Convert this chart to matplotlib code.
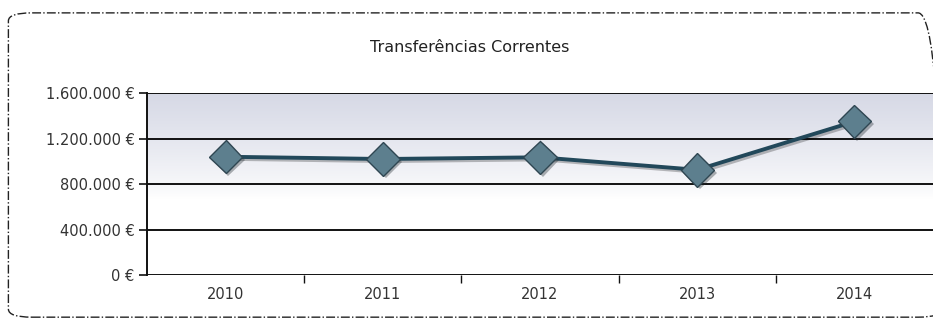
import matplotlib
matplotlib.use('Agg')
import matplotlib.pyplot as plt
import matplotlib.patheffects as pe
from matplotlib.patches import FancyBboxPatch
from matplotlib.ticker import FuncFormatter, FixedLocator
import numpy as np

# data
years = ['2010', '2011', '2012', '2013', '2014']
values = [1040000, 1020000, 1035000, 925000, 1350000]
title = 'Transferências Correntes'

plt.rcParams['font.family'] = ['DejaVu Sans']

fig = plt.figure(figsize=(9.33, 3.22), dpi=100)
fig.patch.set_facecolor('white')

# dash-dot rounded frame around the chart (right side runs off the scan)
frame = FancyBboxPatch((0.009, 0.015), 1.0, 0.945,
                       boxstyle='round,pad=0,rounding_size=0.025',
                       transform=fig.transFigure, fill=False,
                       edgecolor='#222222', linewidth=1.0, linestyle='-.')
fig.patches.append(frame)

fig.text(0.503, 0.853, title, ha='center', va='center', fontsize=11.5, color='#222222')

ax = fig.add_axes([0.1576, 0.146, 0.8424, 0.565])
x = np.arange(len(years))
ax.set_xlim(-0.5, len(years) - 0.5)
ax.set_ylim(0, 1600000)

# plot-area gradient: grey-lavender at top fading to white
grad = np.linspace(0, 1, 256).reshape(-1, 1)
top = np.array([0.84, 0.85, 0.90])
alpha = np.clip((grad - 0.42) / 0.58, 0, 1) ** 0.8
img = np.ones((256, 1, 3)) * (1 - alpha[..., None]) + top * alpha[..., None]
img = img.reshape(256, 1, 3)
ax.imshow(img, extent=[0, 1, 0, 1], transform=ax.transAxes, origin='lower',
          aspect='auto', zorder=0)

yticks = [0, 400000, 800000, 1200000, 1600000]
for yv in yticks:
    ax.axhline(yv, color='#111111', linewidth=1.4, zorder=1)

ax.plot(x, values, color='#22485a', linewidth=2.8, zorder=3,
        path_effects=[pe.SimpleLineShadow(offset=(1.5, -1.5), alpha=0.25), pe.Normal()])
ax.plot(x, values, linestyle='none', marker='D', markersize=17,
        markerfacecolor='#5d7f8e', markeredgecolor='#2f4652', markeredgewidth=1.0,
        zorder=4,
        path_effects=[pe.SimplePatchShadow(offset=(2, -2), alpha=0.35), pe.Normal()])

ax.yaxis.set_major_locator(FixedLocator(yticks))
ax.yaxis.set_major_formatter(FuncFormatter(lambda v, p: f'{int(v):,}'.replace(',', '.') + ' €'))
ax.set_xticks(x)
ax.set_xticklabels(years)
ax.xaxis.set_minor_locator(FixedLocator(np.arange(0.5, len(years) - 0.5, 1)))

ax.tick_params(axis='y', length=6, width=1.2, color='#111111', labelsize=10.5,
               labelcolor='#333333', pad=3)
ax.tick_params(axis='x', which='major', length=0, labelsize=10.5, labelcolor='#333333', pad=9)
ax.tick_params(axis='x', which='minor', length=6, width=1.0, color='#111111', direction='out')

for s in ['top', 'right', 'bottom']:
    ax.spines[s].set_visible(False)
ax.spines['left'].set_color('#111111')
ax.spines['left'].set_linewidth(1.4)

fig.savefig('out.png', dpi=100, facecolor='white')
